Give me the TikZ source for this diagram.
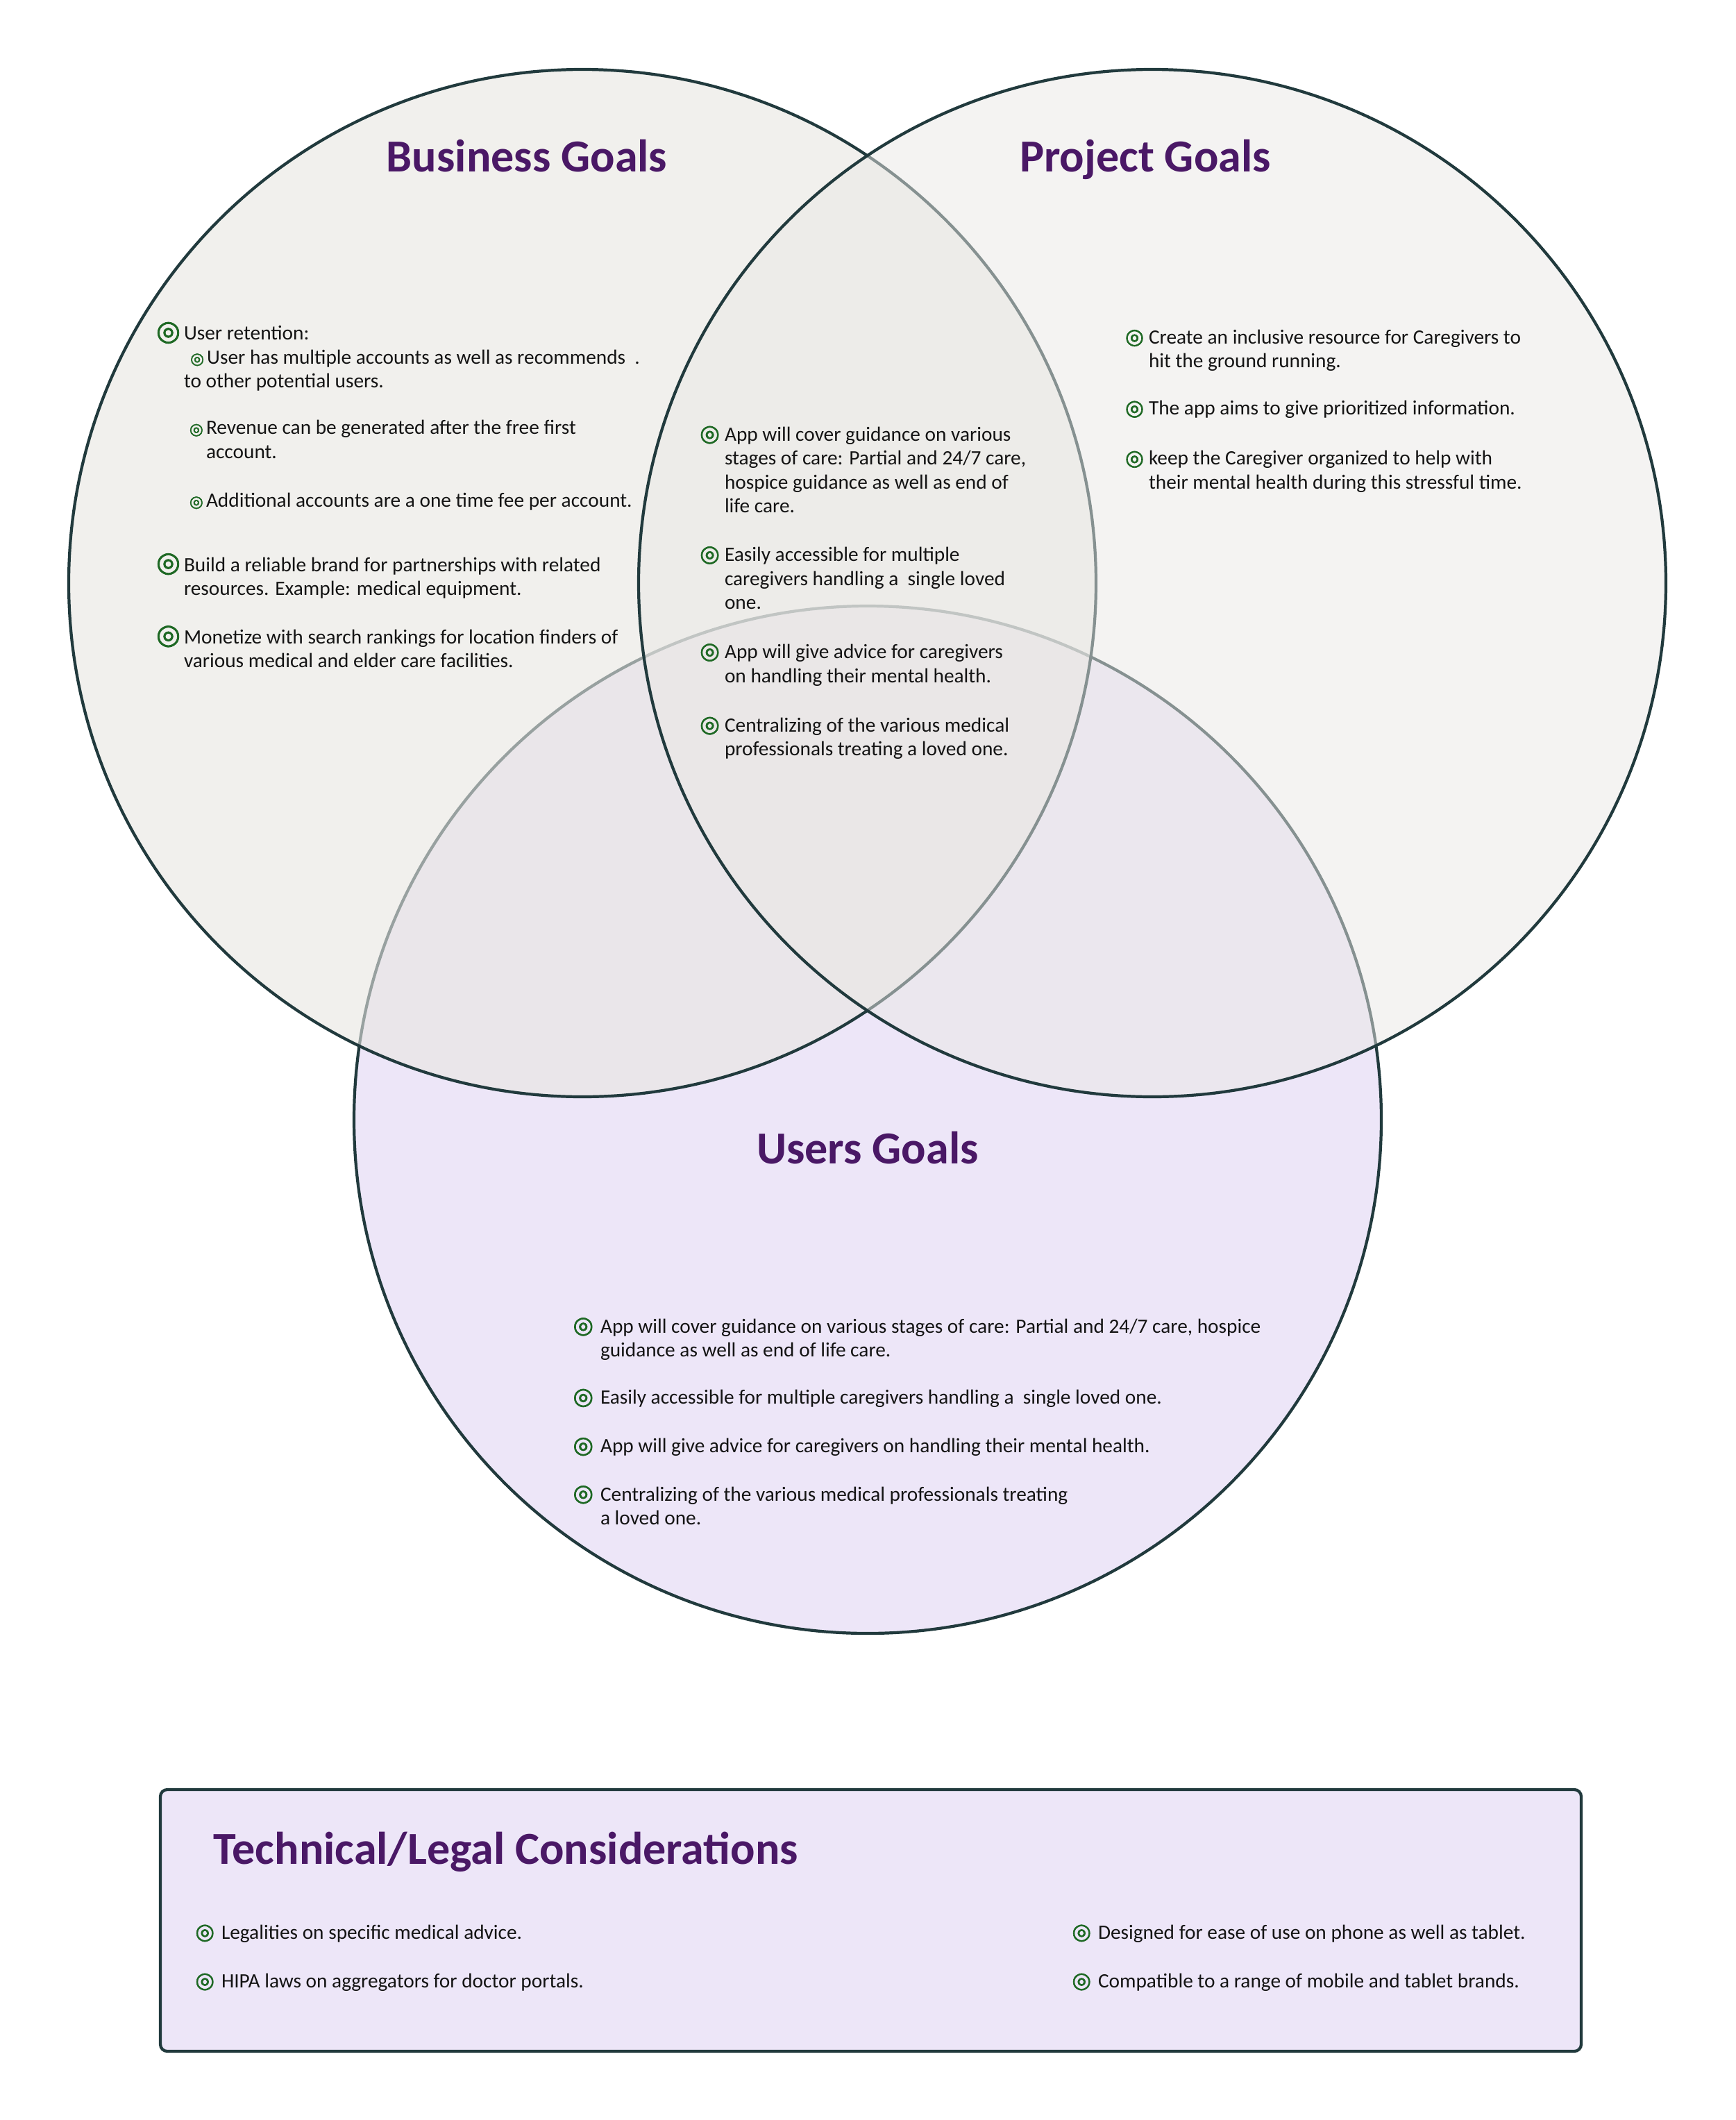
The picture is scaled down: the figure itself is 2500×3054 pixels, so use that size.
\documentclass[tikz,border=0pt]{standalone}
\usepackage{fontspec}
\setmainfont{Carlito}
\newfontfamily\ringfont[FakeBold=2]{DejaVu Sans}
\usetikzlibrary{positioning}

\definecolor{edge}{HTML}{213A3D}
\definecolor{lilac}{HTML}{EDE6F8}
\definecolor{bizfill}{HTML}{E8E6E2}
\definecolor{projfill}{HTML}{EBE9E6}
\definecolor{plum}{HTML}{4A1866}
\definecolor{leaf}{HTML}{1D6823}
\definecolor{ink}{HTML}{141414}

\newcommand{\itemfont}{\fontsize{8.35pt}{9.8pt}\selectfont}
\newcommand{\dotbul}[2]{\llap{{\fontsize{#1}{#1}\ringfont\textcolor{leaf}{◎}}\hspace{#2}}}
\newcommand{\subdot}{{\fontsize{6.6pt}{6.6pt}\ringfont\textcolor{leaf}{◎}}}

\tikzstyle{goal} = [circle, draw=edge, line width=1.2pt, minimum size=148mm, inner sep=0pt]
\tikzstyle{panel} = [rectangle, draw=edge, line width=1.2pt, fill=lilac, rounded corners=1mm, minimum width=204.7mm, minimum height=37.7mm]
\tikzstyle{heading} = [inner sep=0pt, anchor=base, text=plum, font=\fontsize{18.8pt}{22pt}\selectfont\bfseries]
\tikzstyle{item} = [inner sep=0pt, outer sep=0pt, anchor=north west, align=left, text=ink, font=\itemfont]

\begin{document}
\begin{tikzpicture}[x=0.1mm, y=-0.1mm]
    \useasboundingbox [fill=white] (0,0) rectangle (2500,3054);

    % the three goal circles
    \node (users) [goal, fill=lilac] at (1250,1613) {};
    \node (business) [goal, fill=bizfill, fill opacity=0.6] at (839,840) {};
    \node (project) [goal, fill=projfill, fill opacity=0.5] at (1660,840) {};

    \node (bizhead) [heading] at (759,247) {Business Goals};
    \node (projhead) [heading] at (1650,247) {Project Goals};
    \node (usershead) [heading] at (1250,1676) {Users Goals};

    % business goals
    \node (retention) [item] at (265,464) {\strut\dotbul{11.4pt}{0.5mm}User retention:\\
        \hspace*{0.9mm}\subdot\hspace{0.4mm}User has multiple accounts as well as recommends~ .\\
        to other potential users.\strut};
    \node (revenue) [item, below=3.26mm of retention.south west, anchor=north west, xshift=3.2mm] {\strut\dotbul{6.6pt}{0.4mm}Revenue can be generated after the free first\\ account.\strut};
    \node (additional) [item, below=3.56mm of revenue.south west, anchor=north west] {\strut\dotbul{6.6pt}{0.4mm}Additional accounts are a one time fee per account.\strut};
    \node (brand) [item, below=5.66mm of additional.south west, anchor=north west, xshift=-3.2mm] {\strut\dotbul{11.4pt}{0.5mm}Build a reliable brand for partnerships with related\\ resources. Example: medical equipment.\strut};
    \node (monetize) [item, below=3.36mm of brand.south west, anchor=north west] {\strut\dotbul{11.4pt}{0.5mm}Monetize with search rankings for location finders of\\ various medical and elder care facilities.\strut};

    % shared centre
    \node (core1) [item] at (1044,611) {\strut\dotbul{9.4pt}{0.7mm}App will cover guidance on various\\ stages of care: Partial and 24/7 care,\\ hospice guidance as well as end of\\ life care.\strut};
    \node (core2) [item, below=3.57mm of core1.south west, anchor=north west] {\strut\dotbul{9.4pt}{0.7mm}Easily accessible for multiple\\ caregivers handling a~ single loved\\ one.\strut};
    \node (core3) [item, below=3.67mm of core2.south west, anchor=north west] {\strut\dotbul{9.4pt}{0.7mm}App will give advice for caregivers\\ on handling their mental health.\strut};
    \node (core4) [item, below=3.67mm of core3.south west, anchor=north west] {\strut\dotbul{9.4pt}{0.7mm}Centralizing of the various medical\\ professionals treating a loved one.\strut};

    % project goals
    \node (proj1) [item] at (1655,471) {\strut\dotbul{8.8pt}{0.7mm}Create an inclusive resource for Caregivers to\\ hit the ground running.\strut};
    \node (proj2) [item, below=3.37mm of proj1.south west, anchor=north west] {\strut\dotbul{8.8pt}{0.7mm}The app aims to give prioritized information.\strut};
    \node (proj3) [item, below=3.77mm of proj2.south west, anchor=north west] {\strut\dotbul{8.8pt}{0.7mm}keep the Caregiver organized to help with\\ their mental health during this stressful time.\strut};

    % users goals
    \node (user1) [item] at (865,1896) {\strut\dotbul{9.6pt}{1mm}App will cover guidance on various stages of care: Partial and 24/7 care, hospice\\ guidance as well as end of life care.\strut};
    \node (user2) [item, below=3.37mm of user1.south west, anchor=north west] {\strut\dotbul{9.6pt}{1mm}Easily accessible for multiple caregivers handling a~ single loved one.\strut};
    \node (user3) [item, below=3.57mm of user2.south west, anchor=north west] {\strut\dotbul{9.6pt}{1mm}App will give advice for caregivers on handling their mental health.\strut};
    \node (user4) [item, below=3.47mm of user3.south west, anchor=north west] {\strut\dotbul{9.6pt}{1mm}Centralizing of the various medical professionals treating\\ a loved one.\strut};

    % technical and legal box
    \node (legal) [panel] at (1254.5,2766.5) {};
    \node (legalhead) [heading, anchor=base west] at (307,2685) {Technical/Legal Considerations};
    \node (law1) [item] at (319,2769) {\strut\dotbul{9pt}{1mm}Legalities on specific medical advice.\strut};
    \node (law2) [item, below=3.57mm of law1.south west, anchor=north west] {\strut\dotbul{9pt}{1mm}HIPA laws on aggregators for doctor portals.\strut};
    \node (tech1) [item] at (1582,2769) {\strut\dotbul{9pt}{1mm}Designed for ease of use on phone as well as tablet.\strut};
    \node (tech2) [item, below=3.57mm of tech1.south west, anchor=north west] {\strut\dotbul{9pt}{1mm}Compatible to a range of mobile and tablet brands.\strut};
\end{tikzpicture}
\end{document}
